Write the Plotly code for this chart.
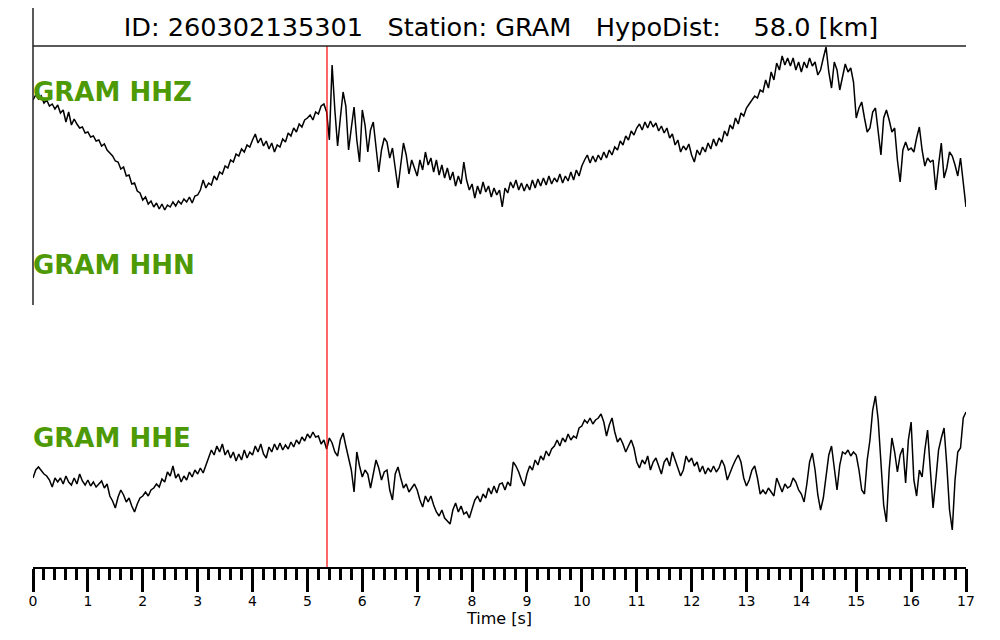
import numpy as np
import plotly.graph_objects as go

# sample interval of the (decimated) waveforms, seconds
dt = 0.05
p_pick = 5.357

station = "GRAM"
event_id = "260302135301"
hypo_dist = 58.0
channels = ["HHZ", "HHN", "HHE"]

# normalised amplitudes (HHN has no data)
hhz = [
    30, 35, 31, 34, 27, 30, 24, 26, 21, 25, 17, 20, 8, 18, 5, 11, 6, 2, 3, -3,
    -2, -7, -6, -11, -10, -16, -14, -20, -23, -26, -31, -32, -39, -37, -46, -45, -54, -53, -61, -63,
    -70, -67, -74, -71, -77, -73, -79, -74, -80, -75, -77, -72, -76, -71, -74, -69, -72, -67, -73, -66,
    -65, -60, -50, -58, -53, -55, -46, -50, -42, -44, -36, -38, -30, -32, -24, -26, -19, -22, -15, -17,
    -10, -4, -13, -8, -16, -11, -19, -13, -22, -15, -17, -9, -12, -3, -6, 2, -2, 6, 3, 10,
    12, 15, 10, 18, 16, 24, 26, 18, -10, 65, 20, -16, 12, 38, 24, -20, 2, 23, -10, -32,
    20, 5, -22, 0, 8, -20, -42, -20, -8, -12, -28, -18, -40, -58, -35, -13, -25, -44, -30, -38,
    -46, -30, -40, -22, -35, -28, -42, -30, -45, -35, -48, -38, -50, -42, -56, -46, -54, -32, -50, -60,
    -54, -68, -56, -64, -52, -62, -56, -67, -58, -65, -60, -77, -58, -63, -52, -58, -50, -60, -53, -61,
    -54, -60, -50, -58, -49, -56, -48, -55, -46, -54, -48, -52, -44, -53, -46, -51, -42, -50, -40, -46,
    -36, -30, -25, -33, -26, -32, -25, -30, -22, -28, -20, -25, -17, -20, -11, -15, -6, -10, -1, -5,
    2, 6, 0, 8, 2, 9, 3, 7, -1, 4, -3, 2, -8, -4, -15, -10, -22, -16, -20, -14,
    -25, -32, -20, -25, -17, -22, -13, -19, -9, -16, -8, -12, -1, -6, 5, 1, 12, 6, 17, 14,
    22, 26, 30, 34, 32, 40, 38, 50, 42, 58, 50, 67, 60, 74, 65, 72, 64, 72, 60, 68,
    58, 68, 62, 72, 64, 68, 55, 60, 72, 83, 58, 42, 68, 60, 40, 52, 66, 58, 62, 48,
    12, 22, 28, 12, -2, 2, 18, 22, -5, -25, 12, 20, 10, -2, 2, -30, -52, -20, -12, -20,
    -18, -22, -8, 3, -20, -36, -28, -32, -30, -60, -35, -13, -48, -38, -22, -26, -35, -46, -28, -55,
    -77,
]

hhe = [
    -17, -9, -6, -10, -13, -15, -19, -26, -17, -21, -17, -23, -15, -21, -24, -17, -23, -13, -20, -24,
    -19, -25, -21, -26, -23, -20, -27, -23, -35, -40, -47, -36, -29, -34, -41, -37, -45, -51, -43, -37,
    -35, -31, -35, -29, -27, -23, -26, -18, -21, -11, -15, -5, -17, -13, -21, -15, -19, -11, -16, -9,
    -13, -7, -12, -5, 3, 11, 6, 15, 9, 17, 6, 11, 3, 9, 0, 7, 1, 11, 3, 9,
    6, 15, 9, 17, 7, 3, 14, 9, 17, 11, 18, 11, 16, 12, 19, 14, 21, 17, 24, 20,
    27, 23, 29, 24, 25, 17, 21, 12, 23, 18, 9, 5, 21, 28, 15, 3, -9, -31, 9, -5,
    -16, -9, -13, -27, -14, 1, -7, -19, -11, -9, -29, -39, -13, -6, -17, -27, -23, -31, -27, -23,
    -29, -39, -46, -35, -41, -35, -44, -51, -55, -49, -57, -60, -63, -49, -42, -51, -45, -53, -51, -57,
    -49, -39, -35, -41, -33, -37, -27, -33, -25, -32, -23, -22, -29, -21, -25, -1, -5, -11, -19, -25,
    -13, -5, -9, 1, -4, 5, 1, 10, 5, 12, 15, 21, 15, 23, 19, 27, 21, 25, 23, 33,
    35, 41, 38, 43, 37, 41, 43, 47, 39, 25, 36, 43, 29, 19, 23, 17, 9, 15, 21, 13,
    -1, -7, 1, -3, 5, -9, -1, 3, -5, -13, -1, 3, -5, 9, 1, -7, -15, -9, 5, -1,
    3, -5, -1, -11, -5, -13, -7, -11, -5, -11, -7, 1, -5, -19, -11, -5, 1, 6, -1, -17,
    -25, -19, -9, -5, -17, -33, -29, -33, -27, -31, -35, -17, -25, -31, -23, -27, -25, -17, -21, -29,
    -33, -41, -23, -1, 8, -9, -34, -49, -37, -17, 6, 15, -9, -29, -4, 9, 7, 11, 5, 9,
    6, -9, -29, -33, 1, 21, 51, 65, 41, 1, -44, -61, -9, 23, 9, -11, 6, 13, -22, 21,
    39, -19, -35, -9, -16, 11, 31, -9, -47, -19, 11, 23, 33, -4, -49, -69, -19, 9, 13, 43,
    49,
]

# vertical position of each channel's baseline on the stacked plot
trace_offsets = {"HHZ": 437, "HHN": 264, "HHE": 106}
waveforms = {"HHZ": hhz, "HHN": [], "HHE": hhe}

fig = go.Figure()

for ch in channels:
    data = np.array(waveforms[ch], dtype=float)
    if len(data) == 0:
        continue
    t = np.arange(len(data)) * dt
    fig.add_trace(
        go.Scatter(
            x=t,
            y=data + trace_offsets[ch],
            mode="lines",
            line=dict(color="black", width=1.5),
            showlegend=False,
            hoverinfo="skip",
        )
    )

# channel labels, rows measured down from the top of the plot area
label_rows = {"HHZ": 46, "HHN": 219, "HHE": 392}
for ch in channels:
    fig.add_annotation(
        x=0, xref="paper", xanchor="left", xshift=-2,
        y=1 - label_rows[ch] / 521, yref="paper", yanchor="middle",
        text=f"<b>{station} {ch}</b>",
        showarrow=False,
        font=dict(family="DejaVu Sans", size=26, color="#4E9A06"),
    )

# P pick
fig.add_shape(type="line", x0=p_pick, x1=p_pick, y0=0, y1=1, yref="paper",
              line=dict(color="red", width=1.2))
# frame lines
fig.add_shape(type="line", x0=0, x1=1, xref="paper", y0=1, y1=1, yref="paper",
              line=dict(color="#222222", width=1.5))
fig.add_shape(type="line", x0=0, x1=0, xref="paper", y0=1 - 259 / 521, y1=1.1,
              yref="paper", line=dict(color="#222222", width=1.5))

nb = "\u00a0"
title = (f"ID: {event_id}{nb * 3}Station: {station}{nb * 3}"
         f"HypoDist:{nb * 4}{hypo_dist:.1f} [km]")

fig.update_layout(
    width=1000, height=640,
    margin=dict(l=25, r=42, t=38, b=81),
    paper_bgcolor="white",
    plot_bgcolor="white",
    title=dict(text=title, x=0.493, xanchor="center", y=1 - 19 / 640, yanchor="middle",
               font=dict(family="DejaVu Sans", size=25.6, color="black")),
    font=dict(family="DejaVu Sans", color="black"),
    xaxis=dict(
        range=[0, 17],
        showgrid=False, zeroline=False,
        showline=True, linecolor="black", linewidth=2,
        ticks="outside", ticklen=23, tickwidth=2.5, tickcolor="black",
        dtick=1, tick0=0,
        tickfont=dict(size=14),
        ticklabelstandoff=-3,
        minor=dict(ticks="outside", dtick=0.2, ticklen=11, tickwidth=2.5, tickcolor="black"),
        title=dict(text="Time [s]", font=dict(size=16), standoff=0),
    ),
    yaxis=dict(range=[0, 521], visible=False),
)

fig.write_html("out.html")
